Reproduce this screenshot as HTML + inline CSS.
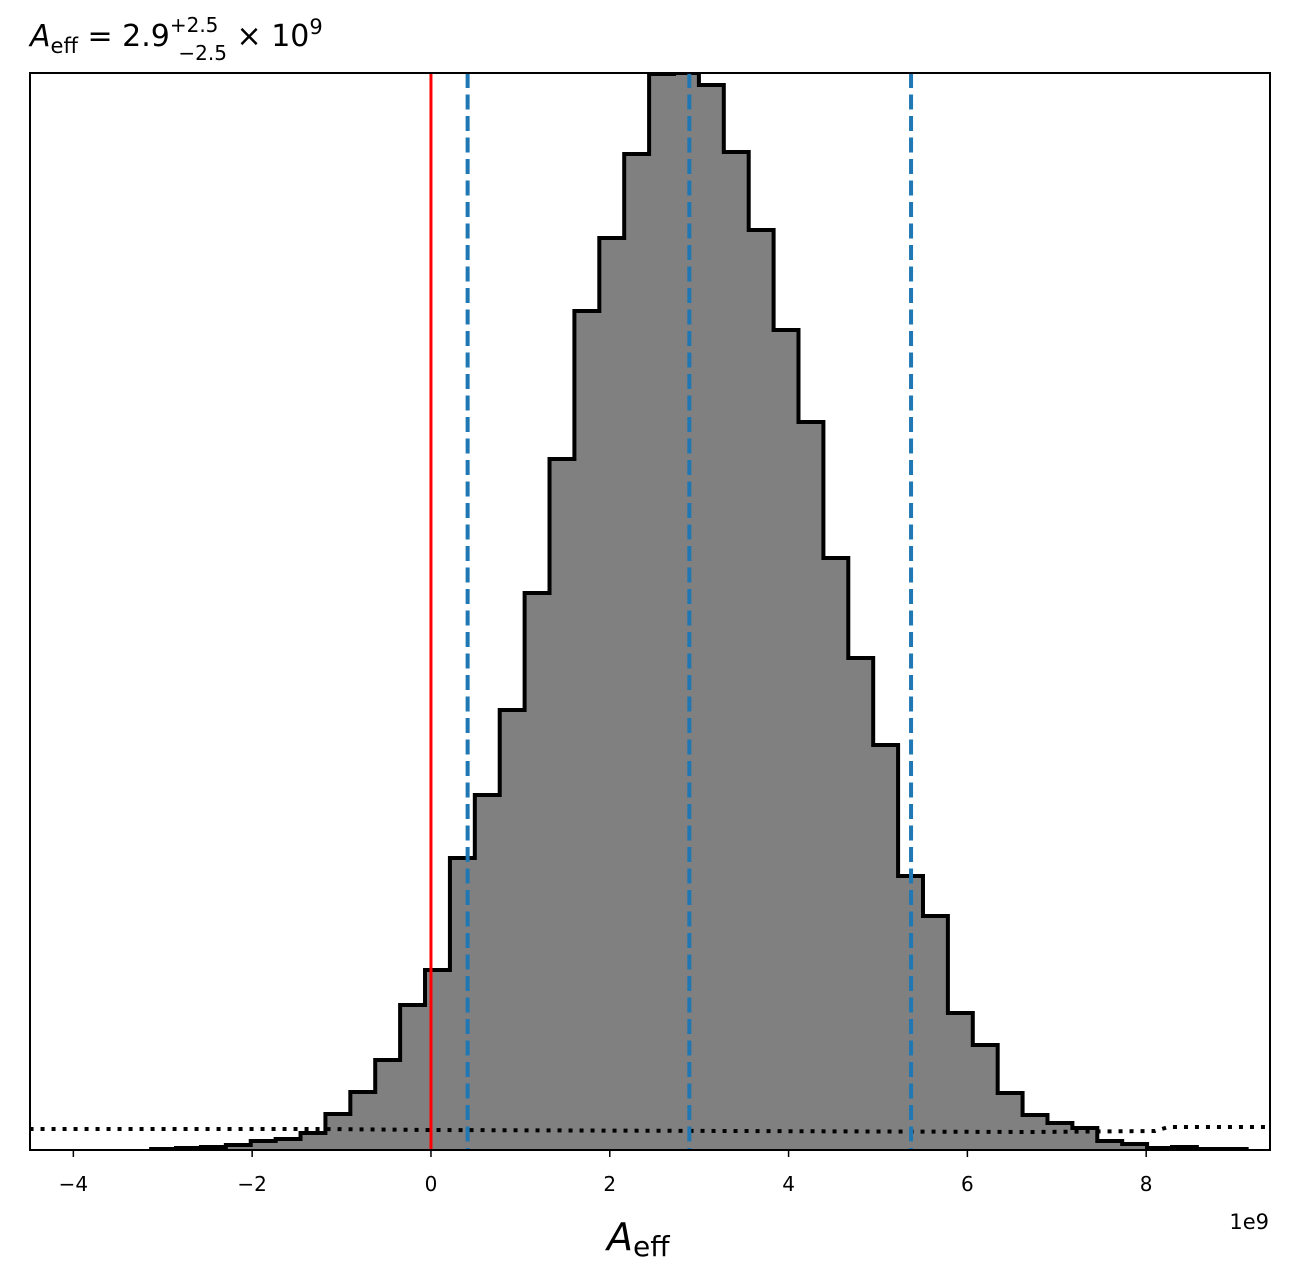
<!DOCTYPE html>
<html><head><meta charset="utf-8"><style>
body{margin:0;background:#fff;}
svg{display:block;font-family:"DejaVu Sans","Liberation Sans",sans-serif;}
</style></head><body>
<svg id="chart" width="1289" height="1278" viewBox="0 0 1289 1278">
<rect x="0" y="0" width="1289" height="1278" fill="#fff"/>
<g id="plot"></g>
<text x="30" y="46" font-size="30"><tspan font-style="italic">A</tspan><tspan font-size="21" dy="7">eff</tspan><tspan dy="-7"> = 2.9</tspan><tspan font-size="20" dy="-14">+2.5</tspan><tspan font-size="20" dx="-40" dy="28">−2.5</tspan><tspan dy="-14"> × 10</tspan><tspan font-size="21" dy="-12">9</tspan></text>
<text x="607" y="1250" font-size="38"><tspan font-style="italic">A</tspan><tspan font-size="28" dy="6">eff</tspan></text>
<text x="1269" y="1229" font-size="21" text-anchor="end">1e9</text>
</svg>
<script>
const binStart = -3.13;
const binWidth = 0.2785;
const counts = [1,2,3,5,9,11,17,36,58,90,145,180,292,355,440,557,691,839,912,996,1076,1077,1065,998,920,820,728,592,492,405,274,234,137,105,57,35,27,22,9,6,2,3,1,1];
const quantiles = [0.41, 2.89, 5.37];
const truthValue = 0;
const xTicks = [-4,-2,0,2,4,6,8];
const priorX = [-4.49,-1.2,0,6.7,8.1,8.25,9.38];
const priorY = [21,21,20,18,19,23,23];
const X0=30,X1=1270,Y0=1150,Y1=73, XMIN=-4.485, XMAX=9.385, YMAX=1077;
const sx=v=>X0+(v-XMIN)/(XMAX-XMIN)*(X1-X0);
const sy=c=>Y0-c/YMAX*(Y0-Y1);
const NS="http://www.w3.org/2000/svg";
const g=document.getElementById('plot');
function mk(t,a){const e=document.createElementNS(NS,t);for(const k in a)e.setAttribute(k,a[k]);g.appendChild(e);return e;}
// clip
const defs=mk('defs',{});
const cp=document.createElementNS(NS,'clipPath');cp.setAttribute('id','clip');
const cr=document.createElementNS(NS,'rect');cr.setAttribute('x',X0);cr.setAttribute('y',Y1);cr.setAttribute('width',X1-X0);cr.setAttribute('height',Y0-Y1);
cp.appendChild(cr);defs.appendChild(cp);
let d='M'+sx(binStart)+','+sy(0);
counts.forEach((c,i)=>{const a=binStart+i*binWidth,b=a+binWidth;d+=' L'+sx(a)+','+sy(c)+' L'+sx(b)+','+sy(c);});
d+=' L'+sx(binStart+counts.length*binWidth)+','+sy(0);
const fill=mk('path',{d:d+' Z',fill:'#808080',stroke:'none','clip-path':'url(#clip)'});


const step=mk('path',{d:d,fill:'none',stroke:'#000','stroke-width':4,'clip-path':'url(#clip)'});


const pr=mk('polyline',{points:priorX.map((x,i)=>sx(x)+','+sy(priorY[i])).join(' '),fill:'none',stroke:'#000','stroke-width':4,'stroke-dasharray':'4,7','clip-path':'url(#clip)'});


quantiles.forEach((q,i)=>{const l=mk('line',{x1:sx(q),x2:sx(q),y1:Y1,y2:Y0,stroke:'#1f77b4','stroke-width':4,'stroke-dasharray':'15,6.5'});

});
const tl=mk('line',{x1:sx(truthValue),x2:sx(truthValue),y1:Y1,y2:Y0,stroke:'#ff0000','stroke-width':3});


const fr=mk('rect',{x:X0,y:Y1,width:X1-X0,height:Y0-Y1,fill:'none',stroke:'#000','stroke-width':2});


xTicks.forEach(t=>{const x=sx(t);
const tk=mk('line',{x1:x,x2:x,y1:Y0,y2:Y0+7,stroke:'#000','stroke-width':1.5});


const tx=mk('text',{x:x,y:Y0+41,'font-size':20,'text-anchor':'middle'});
tx.textContent=(t<0?'−':'')+Math.abs(t);

});
</script>
</body></html>
